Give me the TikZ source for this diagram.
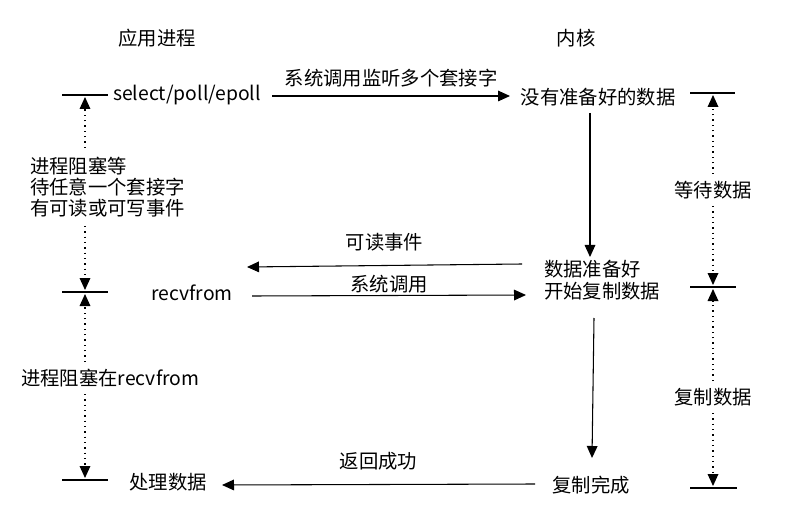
\documentclass[tikz,border=0pt]{standalone}
\usepackage{fontspec}
\setmainfont{Noto Sans CJK SC}
\usetikzlibrary{arrows.meta}
\begin{document}
\begin{tikzpicture}[x=0.75pt,y=-0.75pt,
  txt/.style={inner sep=0pt,font=\fontsize{14.5}{17}\selectfont},
  lbl/.style={inner sep=0pt,font=\fontsize{14.5}{17}\selectfont,align=left},
  tick/.style={line width=0.9pt},
  tip/.style={-{Triangle[length=9pt,width=8pt]}},
  solid arrow/.style={tip,line width=0.8pt},
  dot arrow/.style={tip,line width=0.9pt,dash pattern=on 1pt off 3pt}]
\useasboundingbox[fill=white] (0,0) rectangle (806,520);
% headers
\node[txt] (app) at (157,38) {应用进程};
\node[txt] (kern) at (576,38) {内核};
% left column texts
\node[txt] (sel) at (187,95) {select/poll/epoll};
\node[txt] (recv) at (192,293) {recvfrom};
\node[txt] (proc) at (168,482) {处理数据};
% kernel texts
\node[txt] (nodata) at (598,97) {没有准备好的数据};
\node[lbl,anchor=west] (ready) at (544,280) {数据准备好\\[0pt]开始复制数据};
\node[txt] (done) at (591,485) {复制完成};
% tick lines left
\coordinate (l1a) at (62,95); \coordinate (l1b) at (108,95);
\coordinate (l2a) at (62,292); \coordinate (l2b) at (108,292);
\coordinate (l3a) at (62,480); \coordinate (l3b) at (108,480);
\draw[tick] (l1a) -- (l1b);
\draw[tick] (l2a) -- (l2b);
\draw[tick] (l3a) -- (l3b);
% tick lines right
\coordinate (r1a) at (690,93); \coordinate (r1b) at (735,93);
\coordinate (r2a) at (690,287); \coordinate (r2b) at (736,287);
\coordinate (r3a) at (690,488); \coordinate (r3b) at (737,488);
\draw[tick] (r1a) -- (r1b);
\draw[tick] (r2a) -- (r2b);
\draw[tick] (r3a) -- (r3b);
% left dotted arrows with labels
\node[lbl,anchor=west] (wait1) at (30,187) {进程阻塞等\\[-1pt]待任意一个套接字\\[-1pt]有可读或可写事件};
\coordinate (d1t) at (85,97); \coordinate (d1b) at (85,290);
\draw[dot arrow] (85,148) -- (d1t);
\draw[dot arrow] (85,226) -- (d1b);
\node[txt,anchor=west] (wait2) at (21,378) {进程阻塞在recvfrom};
\coordinate (d2t) at (85,294); \coordinate (d2b) at (85,478);
\draw[dot arrow] (85,362) -- (d2t);
\draw[dot arrow] (85,394) -- (d2b);
% right dotted arrows with labels
\node[txt] (waitd) at (713,190) {等待数据};
\coordinate (e1t) at (713,95); \coordinate (e1b) at (713,285);
\draw[dot arrow] (713,174) -- (e1t);
\draw[dot arrow] (713,206) -- (e1b);
\node[txt] (copyd) at (713,397) {复制数据};
\coordinate (e2t) at (713,289); \coordinate (e2b) at (713,486);
\draw[dot arrow] (713,381) -- (e2t);
\draw[dot arrow] (713,413) -- (e2b);
% solid connectors
\draw[solid arrow] (272,96) -- node[txt,above=6pt] {系统调用监听多个套接字} (510,96);
\draw[solid arrow] (590,113) -- (590,257);
\draw[solid arrow] (522,264) -- node[txt,above=10pt] {可读事件} (247,267);
\draw[solid arrow] (252,296) -- node[txt,above=1pt] {系统调用} (526,295);
\draw[solid arrow] (594,318) -- (592,458);
\draw[solid arrow] (535,484) -- node[txt,above=10pt] {返回成功} (222,485);
\end{tikzpicture}
\end{document}
